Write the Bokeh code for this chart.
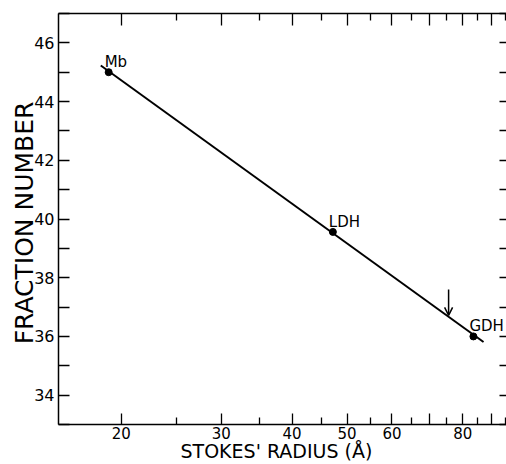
from bokeh.plotting import figure
from bokeh.models import (LogAxis, LinearAxis, FixedTicker, Range1d, Arrow,
                          OpenHead, ColumnDataSource)
from bokeh.core.properties import value
from bokeh.embed import file_html
from bokeh.resources import INLINE

# ---- data ----
proteins = ["Mb", "LDH", "GDH"]
stokes_radius = [19.0, 47.2, 83.5]
fraction_number = [45.0, 39.56, 36.0]

fit_radius = [18.4, 87.0]
fit_fraction = [45.23, 35.81]

arrow_radius = [75.5]
arrow_fraction_start = [37.6]
arrow_fraction_end = [36.72]

x_major_ticks = [20, 30, 40, 50, 60, 70, 80, 90]
x_minor_ticks = [25, 35, 45, 55, 65, 75, 85, 95]
x_tick_labels = ["20", "30", "40", "50", "60", "", "80", ""]
y_major_ticks = [34, 36, 38, 40, 42, 44, 46]
y_minor_ticks = [33, 35, 37, 39, 41, 43, 45, 47]

x_title = "STOKES'  RADIUS  (Å)"
y_title = "FRACTION  NUMBER"

FONT = "DejaVu Sans"

p = figure(width=506, height=464, x_axis_type="log",
           x_range=Range1d(15.5, 95.5), y_range=Range1d(33, 47),
           output_backend="svg", toolbar_location=None,
           min_border_left=58, min_border_right=0,
           min_border_top=13, min_border_bottom=40,
           background_fill_color="white", border_fill_color="white")
p.outline_line_color = None
p.grid.visible = False

xticker = FixedTicker(ticks=x_major_ticks, minor_ticks=x_minor_ticks)
yticker = FixedTicker(ticks=y_major_ticks, minor_ticks=y_minor_ticks)
overrides = {float(t): lab for t, lab in zip(x_major_ticks, x_tick_labels)}

xa = p.xaxis[0]
xa.ticker = xticker
xa.major_label_overrides = overrides
xa.axis_label = x_title
ya = p.yaxis[0]
ya.ticker = yticker
ya.axis_label = y_title

for ax in (xa, ya):
    ax.axis_line_width = 1.5
    ax.axis_line_color = "black"
    ax.major_tick_line_color = "black"
    ax.minor_tick_line_color = "black"
    ax.major_tick_line_width = 1.3
    ax.minor_tick_line_width = 1.3
    ax.major_tick_out = 0
    ax.minor_tick_out = 0
    ax.major_label_text_font = FONT
    ax.major_label_text_color = "black"
    ax.axis_label_text_font = FONT
    ax.axis_label_text_font_style = "normal"
    ax.axis_label_text_color = "black"

xa.major_tick_in = 11
xa.minor_tick_in = 7
xa.major_label_text_font_size = "15px"
xa.major_label_standoff = 2
xa.axis_label_text_font_size = "19px"
xa.axis_label_standoff = -2

ya.major_tick_in = 11
ya.minor_tick_in = 11
ya.major_label_text_font_size = "16px"
ya.major_label_standoff = 4
ya.axis_label_text_font_size = "25px"
ya.axis_label_standoff = -8

empty_x = {float(t): "" for t in x_major_ticks}
empty_y = {float(t): "" for t in y_major_ticks}
top = LogAxis(ticker=xticker, major_label_overrides=empty_x, major_label_text_font_size="0px",
              major_label_standoff=0,
              major_tick_in=12, major_tick_out=0, minor_tick_in=7, minor_tick_out=0,
              axis_line_width=1.5, major_tick_line_width=1.3, minor_tick_line_width=1.3)
p.add_layout(top, "above")
right = LinearAxis(ticker=yticker, major_label_overrides=empty_y, major_label_text_font_size="0px",
                   major_label_standoff=0,
                   major_tick_in=7, major_tick_out=0, minor_tick_in=7, minor_tick_out=0,
                   axis_line_color=None, major_tick_line_width=1.3, minor_tick_line_width=1.3)
p.add_layout(right, "right")

p.line(fit_radius, fit_fraction, line_width=2, color="black")
p.scatter(stokes_radius, fraction_number, size=7, color="black")
p.text(x=stokes_radius, y=fraction_number, text=proteins, x_offset=-4, y_offset=-1,
       text_font=value(FONT), text_font_size="15px", text_color="black",
       text_baseline="bottom", text_align="left")

arrow_src = ColumnDataSource(dict(x=arrow_radius, y0=arrow_fraction_start, y1=arrow_fraction_end))
p.add_layout(Arrow(source=arrow_src, x_start="x", y_start="y0", x_end="x", y_end="y1",
                   line_width=1.5, line_color="black",
                   end=OpenHead(size=8, line_width=1.5, line_color="black")))

open("out.html", "w").write(file_html(p, INLINE))
